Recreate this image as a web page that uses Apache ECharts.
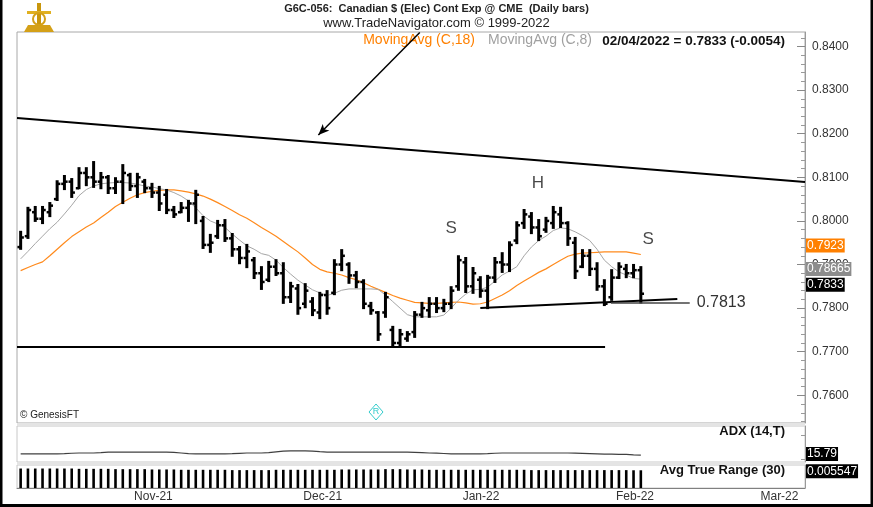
<!DOCTYPE html>
<html><head><meta charset="utf-8">
<script src="https://cdn.jsdelivr.net/npm/echarts@6/dist/echarts.min.js"></script>
<style>html,body{margin:0;padding:0;background:#fff}#c{width:873px;height:507px}</style>
</head><body><div id="c"></div>
<script>
// ---------- DATA ----------
const holidays = ['2021-11-25','2021-12-24','2021-12-31'];
function tradingDays(startISO, count, skip){
  const out=[]; const d=new Date(startISO+'T00:00:00Z');
  while(out.length<count){const wd=d.getUTCDay();const s=d.toISOString().slice(0,10);
    if(wd!==0&&wd!==6&&skip.indexOf(s)<0) out.push(s); d.setUTCDate(d.getUTCDate()+1);}
  return out;
}
const dates = tradingDays('2021-10-05', 86, holidays);

const opens = [0.7940,0.7965,0.8020,0.8005,0.8020,0.8050,0.8085,0.8090,0.8075,0.8110,
0.8100,0.8090,0.8100,0.8075,0.8090,0.8105,0.8080,0.8090,0.8075,0.8065,
0.8060,0.8025,0.8020,0.8030,0.8040,0.8000,0.7945,0.7965,0.7990,0.7960,
0.7935,0.7915,0.7910,0.7880,0.7865,0.7895,0.7880,0.7825,0.7845,0.7810,
0.7815,0.7790,0.7830,0.7835,0.7900,0.7900,0.7875,0.7860,0.7805,0.7790,
0.7790,0.7750,0.7720,0.7730,0.7745,0.7785,0.7795,0.7810,0.7800,0.7810,
0.7850,0.7905,0.7850,0.7865,0.7840,0.7870,0.7905,0.7900,0.7955,0.7995,
0.8010,0.7985,0.7980,0.7995,0.8015,0.7995,0.7950,0.7895,0.7920,0.7890,
0.7850,0.7825,0.7870,0.7890,0.7880,0.7887];
const highs = [0.7975,0.8030,0.8032,0.8032,0.8041,0.8091,0.8103,0.8096,0.8121,0.8121,
0.8135,0.8110,0.8103,0.8098,0.8128,0.8108,0.8108,0.8094,0.8085,0.8078,
0.8071,0.8032,0.8041,0.8046,0.8069,0.8009,0.7968,0.8000,0.8002,0.7970,
0.7940,0.7945,0.7915,0.7894,0.7906,0.7910,0.7903,0.7858,0.7853,0.7855,
0.7823,0.7835,0.7839,0.7910,0.7933,0.7903,0.7883,0.7864,0.7812,0.7791,
0.7835,0.7757,0.7750,0.7745,0.7791,0.7812,0.7823,0.7823,0.7819,0.7848,
0.7919,0.7915,0.7892,0.7871,0.7874,0.7915,0.7926,0.7951,0.7997,0.8025,
0.8018,0.8002,0.8007,0.8032,0.8030,0.7997,0.7961,0.7933,0.7933,0.7903,
0.7864,0.7887,0.7903,0.7899,0.7899,0.7894];
const lows = [0.7936,0.7961,0.8000,0.7995,0.8011,0.8048,0.8073,0.8055,0.8075,0.8082,
0.8078,0.8075,0.8064,0.8064,0.8041,0.8071,0.8055,0.8066,0.8055,0.8025,
0.8018,0.8009,0.8020,0.8000,0.7995,0.7938,0.7929,0.7961,0.7954,0.7920,
0.7903,0.7894,0.7869,0.7844,0.7862,0.7876,0.7812,0.7814,0.7787,0.7802,
0.7784,0.7777,0.7787,0.7832,0.7887,0.7858,0.7848,0.7800,0.7787,0.7727,
0.7780,0.7711,0.7711,0.7725,0.7734,0.7780,0.7780,0.7791,0.7793,0.7800,
0.7842,0.7837,0.7835,0.7826,0.7800,0.7860,0.7883,0.7885,0.7949,0.7984,
0.7972,0.7956,0.7975,0.7984,0.7986,0.7945,0.7869,0.7894,0.7876,0.7842,
0.7807,0.7819,0.7869,0.7871,0.7871,0.7813];
const closes = [0.7962,0.8025,0.8005,0.8025,0.8035,0.8085,0.8090,0.8065,0.8110,0.8100,
0.8090,0.8100,0.8075,0.8090,0.8110,0.8080,0.8100,0.8075,0.8065,0.8040,
0.8025,0.8015,0.8030,0.8040,0.8060,0.7945,0.7950,0.7990,0.7960,0.7935,
0.7915,0.7930,0.7880,0.7860,0.7895,0.7880,0.7825,0.7850,0.7800,0.7840,
0.7795,0.7830,0.7800,0.7900,0.7920,0.7875,0.7860,0.7810,0.7795,0.7740,
0.7825,0.7720,0.7740,0.7740,0.7785,0.7800,0.7810,0.7800,0.7810,0.7840,
0.7910,0.7850,0.7880,0.7840,0.7870,0.7905,0.7900,0.7945,0.7990,0.8015,
0.7985,0.7965,0.8000,0.8020,0.7995,0.7960,0.7885,0.7920,0.7890,0.7850,
0.7810,0.7870,0.7895,0.7880,0.7887,0.7833];
const ma18 = [0.7886,0.7893,0.7900,0.7906,0.7920,0.7935,0.7950,0.7964,0.7975,0.7986,
0.7995,0.8008,0.8020,0.8033,0.8043,0.8052,0.8060,0.8065,0.8068,0.8070,
0.8071,0.8071,0.8069,0.8066,0.8062,0.8057,0.8050,0.8042,0.8033,0.8024,
0.8014,0.8006,0.7996,0.7985,0.7975,0.7965,0.7953,0.7941,0.7929,0.7915,
0.7900,0.7889,0.7883,0.7880,0.7876,0.7870,0.7865,0.7858,0.7850,0.7843,
0.7836,0.7829,0.7823,0.7818,0.7813,0.7812,0.7811,0.7811,0.7812,0.7813,
0.7814,0.7812,0.7809,0.7810,0.7814,0.7822,0.7830,0.7840,0.7852,0.7862,
0.7872,0.7882,0.7890,0.7900,0.7910,0.7919,0.7924,0.7926,0.7927,0.7928,
0.7929,0.7929,0.7929,0.7929,0.7926,0.7923];
const ma8 = [0.7913,0.7930,0.7948,0.7965,0.7982,0.7997,0.8016,0.8036,0.8058,0.8072,
0.8080,0.8085,0.8087,0.8088,0.8088,0.8087,0.8084,0.8080,0.8078,0.8074,
0.8071,0.8065,0.8057,0.8046,0.8030,0.8012,0.8000,0.7993,0.7985,0.7970,
0.7956,0.7943,0.7935,0.7925,0.7921,0.7910,0.7893,0.7878,0.7864,0.7853,
0.7842,0.7835,0.7829,0.7834,0.7841,0.7844,0.7844,0.7844,0.7844,0.7843,
0.7830,0.7815,0.7800,0.7785,0.7780,0.7780,0.7780,0.7780,0.7784,0.7800,
0.7818,0.7832,0.7842,0.7843,0.7848,0.7862,0.7876,0.7885,0.7895,0.7920,
0.7940,0.7955,0.7965,0.7978,0.7984,0.7982,0.7975,0.7966,0.7955,0.7935,
0.7910,0.7895,0.7883,0.7876,0.7868,0.78665];
const adx = [16.7,16.7,16.7,16.7,16.7,16.8,17.0,17.3,17.5,17.5,
17.5,17.8,18.2,18.3,18.3,18.3,18.3,18.3,18.3,18.3,
18.3,18.0,17.5,17.0,16.7,16.7,16.7,16.7,16.7,16.9,
17.2,17.5,17.5,17.5,17.8,18.4,19.0,19.2,19.2,19.2,
19.0,18.6,18.3,18.3,18.3,18.3,18.3,18.3,18.3,18.3,
18.3,18.3,18.3,18.3,18.1,17.8,17.5,17.4,17.1,16.8,
16.7,16.7,16.7,16.8,17.0,17.3,17.5,17.5,17.5,17.5,
17.5,17.5,17.5,17.5,17.5,17.5,17.4,17.2,17.0,16.8,
16.6,16.5,16.4,16.3,16.0,15.79];
const atr = [0.0061,0.0061,0.0061,0.0061,0.0061,0.0061,0.0061,0.0061,0.0060,0.0060,
0.0060,0.0060,0.0060,0.0059,0.0059,0.0059,0.0059,0.0059,0.0058,0.0058,
0.0058,0.0058,0.0057,0.0057,0.0057,0.0057,0.0057,0.0057,0.0057,0.0056,
0.0056,0.0056,0.0056,0.0056,0.0056,0.0057,0.0057,0.0057,0.0057,0.0057,
0.0057,0.0057,0.0057,0.0057,0.0058,0.0058,0.0058,0.0058,0.0058,0.0058,
0.0059,0.0059,0.0059,0.0058,0.0058,0.0058,0.0057,0.0057,0.0057,0.0057,
0.0057,0.0057,0.0057,0.0057,0.0057,0.0057,0.0057,0.0057,0.0057,0.0057,
0.0056,0.0056,0.0056,0.0056,0.0056,0.0056,0.0056,0.0056,0.0056,0.0056,
0.0056,0.0056,0.0056,0.0056,0.00555,0.005547];

const monthLabels = ['Nov-21','Dec-21','Jan-22','Feb-22','Mar-22'];
const monthPos = [18.2, 41.4, 63.1, 84.2, 104.0];
const priceTicks = [0.76,0.77,0.78,0.79,0.80,0.81,0.82,0.83,0.84];
const minorTicks = [0.754,0.756,0.758,0.762,0.764,0.766,0.768,0.772,0.774,0.776,0.778,0.782,0.784,0.786,0.788,
0.792,0.794,0.796,0.798,0.802,0.804,0.806,0.808,0.812,0.814,0.816,0.818,0.822,0.824,0.826,0.828,0.832,0.834,0.836,0.838,0.842];
const priceMin = 0.75365, priceMax = 0.84333;
const slotMin = -0.5, slotMax = 107.5;

const trendLine = [[-0.5, 0.8236],[107.5, 0.8089]];
const arrowLine = [[54.7, 0.8432],[40.8, 0.8197]];
const supportLine = [[-0.5, 0.7711],[80.1, 0.7711]];
const neckLine = [[63.0, 0.7800],[90.0, 0.7821]];
const levelLine = [[80.9, 0.7813],[91.7, 0.7813]];
const levelLabel = '0.7813';
const patternText = ['S','H','S'];
const patternPos = [[59.0, 0.7984],[70.9, 0.8087],[86.0, 0.7957]];

const lastClose = 0.7833, lastChange = -0.0054;
const ma18Last = 0.7923, ma8Last = 0.78665, adxLast = 15.79, atrLast = 0.005547;

// ---------- CHART ----------
const FONT = "'Liberation Sans', Arial, sans-serif";
const chart = echarts.init(document.getElementById('c'), null, {renderer:'canvas'});
const idx = a => a.map((v,i)=>[i,v]);
const ohlc = opens.map((o,i)=>[i,o,highs[i],lows[i],closes[i]]);
const d = dates[dates.length-1].split('-');
const dateStr = d[1]+'/'+d[2]+'/'+d[0];

function tag(xv, yv, text, bg, dy){
  return {coord:[xv,yv], symbol:'rect', symbolSize:0,
    label:{show:true, position:'right', distance:1, offset:[0,dy], formatter:text,
      backgroundColor:bg, color:'#fff', fontSize:12, fontFamily:FONT, padding:[1,1,0,1], lineHeight:13}};
}
const mainGrid = {left:17, right:68, top:32, height:391};
const noZero = {onZero:false};

const option = {
  animation:false,
  textStyle:{fontFamily:FONT},
  grid:[
    Object.assign({show:true, borderColor:'#a8a8a8', borderWidth:1, backgroundColor:'#fff'}, mainGrid),
    {left:17, right:68, top:426, height:36, show:true, borderColor:'#c8c8c8', borderWidth:1, backgroundColor:'#fff'},
    {left:17, right:68, top:465, height:23, show:true, borderColor:'#c8c8c8', borderWidth:1, backgroundColor:'#fff'},
    Object.assign({show:false}, mainGrid)
  ],
  xAxis:[
    {type:'value', gridIndex:0, min:slotMin, max:slotMax, show:false},
    {type:'value', gridIndex:1, min:slotMin, max:slotMax, show:false},
    {type:'value', gridIndex:2, min:slotMin, max:slotMax,
      axisLine:{show:true, onZero:false, lineStyle:{color:'#808080', width:1}}, axisTick:{show:false}, splitLine:{show:false},
      axisLabel:{customValues:monthPos, margin:3, color:'#333', fontSize:12, fontFamily:FONT,
        formatter:v=>{const k=monthPos.findIndex(p=>Math.abs(p-v)<0.01);return k>=0?monthLabels[k]:'';}}},
    {type:'value', gridIndex:3, min:slotMin, max:slotMax, show:false}
  ],
  yAxis:[
    {type:'value', gridIndex:0, position:'right', min:priceMin, max:priceMax, splitLine:{show:false},
      axisLine:{show:true, onZero:false, lineStyle:{color:'#9a9a9a'}},
      axisTick:{show:true, inside:true, length:8, customValues:priceTicks, lineStyle:{color:'#888'}},
      axisLabel:{customValues:priceTicks, margin:7, color:'#333', fontSize:12, fontFamily:FONT, formatter:v=>v.toFixed(4)}},
    {type:'value', gridIndex:3, position:'right', min:priceMin, max:priceMax, splitLine:{show:false},
      axisLine:{show:false, onZero:false}, axisLabel:{show:false},
      axisTick:{show:true, inside:true, length:4, customValues:minorTicks, lineStyle:{color:'#999'}}},
    {type:'value', gridIndex:1, position:'right', min:10, max:40, splitLine:{show:false},
      axisLine:{show:true, onZero:false, lineStyle:{color:'#9a9a9a'}}, axisLabel:{show:false},
      axisTick:{show:true, inside:true, length:4, customValues:[12,32], lineStyle:{color:'#999'}}},
    {type:'value', gridIndex:2, position:'right', min:0, max:0.0072, splitLine:{show:false},
      axisLine:{show:true, onZero:false, lineStyle:{color:'#9a9a9a'}}, axisLabel:{show:false}, axisTick:{show:false}}
  ],
  series:[
    {name:'MovingAvg (C,18)', type:'line', xAxisIndex:0, yAxisIndex:0, data:idx(ma18), symbol:'none', z:2,
      lineStyle:{color:'#ff8a1c', width:1.2},
      markPoint:{silent:true, data:[tag(slotMax, ma18Last, ma18Last.toFixed(4), '#ff8000', -9)]}},
    {name:'MovingAvg (C,8)', type:'line', xAxisIndex:0, yAxisIndex:0, data:idx(ma8), symbol:'none', z:2,
      lineStyle:{color:'#a6a6a6', width:1},
      markPoint:{silent:true, data:[tag(slotMax, ma8Last, String(ma8Last), '#8c8c8c', -10)]},
      markLine:{silent:true, symbol:['none','none'], label:{show:false}, z:6,
        data:[
          [{coord:trendLine[0], lineStyle:{color:'#000', width:2, type:'solid'}},{coord:trendLine[1]}],
          [{coord:arrowLine[0], symbol:'none', lineStyle:{color:'#000', width:1.5, type:'solid'}},{coord:arrowLine[1], symbol:'arrow', symbolSize:[7,11]}],
          [{coord:supportLine[0], lineStyle:{color:'#000', width:2, type:'solid'}},{coord:supportLine[1]}],
          [{coord:neckLine[0], lineStyle:{color:'#000', width:2, type:'solid'}},{coord:neckLine[1]}],
          [{coord:levelLine[0], lineStyle:{color:'#444', width:1.5, type:'solid'},
            label:{show:true, position:'end', distance:7, formatter:levelLabel, color:'#333', fontSize:16, fontFamily:FONT}},{coord:levelLine[1]}]
        ]}},
    {name:'Bars', type:'custom', xAxisIndex:0, yAxisIndex:0, data:ohlc, z:5,
      encode:{x:0, y:[1,2,3,4]},
      renderItem:(params, api)=>{
        const i=api.value(0);
        const pO=api.coord([i,api.value(1)]), pH=api.coord([i,api.value(2)]),
              pL=api.coord([i,api.value(3)]), pC=api.coord([i,api.value(4)]);
        const t=3.2;
        return {type:'group', children:[
          {type:'line', shape:{x1:pH[0],y1:pH[1]-1,x2:pL[0],y2:pL[1]+1}, style:{stroke:'#000', lineWidth:3}},
          {type:'line', shape:{x1:pO[0]-t,y1:pO[1],x2:pO[0],y2:pO[1]}, style:{stroke:'#000', lineWidth:2.5}},
          {type:'line', shape:{x1:pC[0],y1:pC[1],x2:pC[0]+t,y2:pC[1]}, style:{stroke:'#000', lineWidth:2.5}}
        ]};
      },
      markPoint:{silent:true, data:[tag(slotMax, lastClose, lastClose.toFixed(4), '#000', -9)]}},
    {name:'Pattern', type:'scatter', xAxisIndex:0, yAxisIndex:0, data:patternPos, symbolSize:0, z:7,
      label:{show:true, position:'inside', formatter:p=>patternText[p.dataIndex], color:'#1a1a1a', fontSize:17, fontFamily:FONT}},
    {name:'ADX (14,T)', type:'line', xAxisIndex:1, yAxisIndex:2, data:idx(adx), symbol:'none',
      lineStyle:{color:'#404040', width:1.2},
      markPoint:{silent:true, data:[tag(slotMax, adxLast, adxLast.toFixed(2), '#000', -1)]}},
    {name:'Avg True Range (30)', type:'bar', xAxisIndex:2, yAxisIndex:3, data:idx(atr), barWidth:2.6,
      itemStyle:{color:'#000'},
      markPoint:{silent:true, data:[tag(slotMax, atrLast, String(atrLast), '#000', 1)]}}
  ],
  graphic:[
    {type:'text', left:'center', top:3, style:{text:'G6C-056:  Canadian $ (Elec) Cont Exp @ CME  (Daily bars)', font:"bold 11px "+FONT, fill:'#222'}},
    {type:'text', left:'center', top:17, style:{text:'www.TradeNavigator.com \u00a9 1999-2022', font:"13px "+FONT, fill:'#222'}},
    {type:'text', x:475, y:33, style:{text:'MovingAvg (C,18)', font:"14px "+FONT, fill:'#ff8000', textAlign:'right'}},
    {type:'text', x:592, y:33, style:{text:'MovingAvg (C,8)', font:"14px "+FONT, fill:'#a0a0a0', textAlign:'right'}},
    {type:'text', x:785, y:34, style:{text:dateStr+' = '+lastClose.toFixed(4)+' ('+lastChange.toFixed(4)+')', font:"bold 13.5px "+FONT, fill:'#111', textAlign:'right'}},
    {type:'text', x:785, y:425, style:{text:'ADX (14,T)', font:"bold 13px "+FONT, fill:'#111', textAlign:'right'}},
    {type:'text', x:785, y:464, style:{text:'Avg True Range (30)', font:"bold 13px "+FONT, fill:'#111', textAlign:'right'}},
    {type:'text', x:20, y:410, style:{text:'\u00a9 GenesisFT', font:"10px "+FONT, fill:'#222'}},
    {type:'polygon', shape:{points:[[376,404],[383,412],[376,420],[369,412]]}, style:{fill:'none', stroke:'#33cccc', lineWidth:1}},
    {type:'text', x:376, y:412, style:{text:'R', font:"9px "+FONT, fill:'#33cccc', textAlign:'center', textVerticalAlign:'middle'}},
    {type:'rect', shape:{x:17, y:423, width:788, height:3}, style:{fill:'#e4e4e4'}},
    {type:'rect', shape:{x:17, y:462, width:788, height:3}, style:{fill:'#e4e4e4'}},
    // logo
    {type:'polygon', shape:{points:[[28,25],[50,25],[54,32],[24,32]]}, style:{fill:'#d4a017'}},
    {type:'rect', shape:{x:37, y:3, width:4, height:23}, style:{fill:'#c8960c'}},
    {type:'rect', shape:{x:27, y:11, width:24, height:3}, style:{fill:'#e0b020'}},
    {type:'circle', shape:{cx:39, cy:19, r:6}, style:{fill:'none', stroke:'#d4a017', lineWidth:2}},
    // frame
    {type:'rect', shape:{x:0, y:0, width:2.5, height:507}, style:{fill:'#000'}},
    {type:'rect', shape:{x:870.5, y:0, width:2.5, height:507}, style:{fill:'#000'}},
    {type:'rect', shape:{x:0, y:504, width:873, height:3}, style:{fill:'#000'}}
  ]
};
chart.setOption(option);
</script></body></html>
